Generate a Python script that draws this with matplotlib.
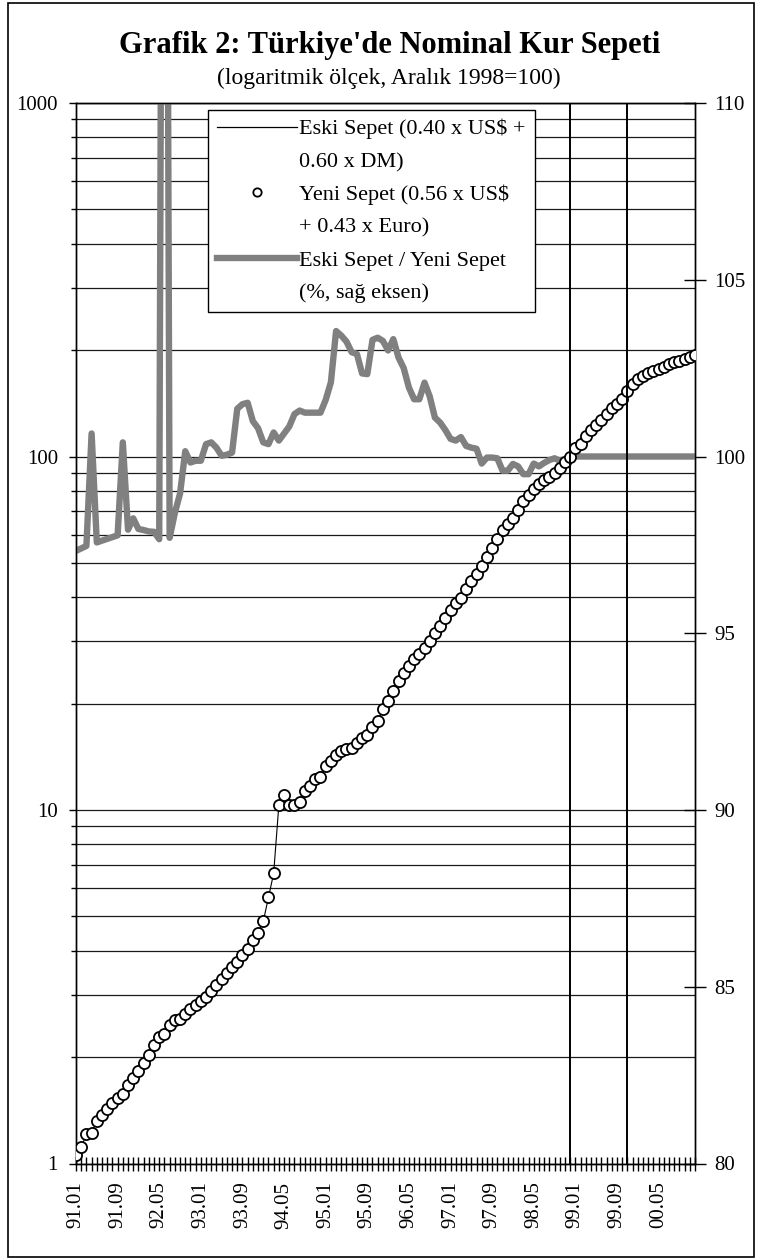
import matplotlib
matplotlib.use("Agg")
import matplotlib.pyplot as plt
from matplotlib.lines import Line2D
from matplotlib.patches import Rectangle
from matplotlib.ticker import NullFormatter

plt.rcParams['font.family'] = ['Liberation Serif', 'DejaVu Serif']

# aylik kategoriler 91.01 - 00.12
aylar = [f"{yil % 100:02d}.{ay:02d}" for yil in range(1991, 2001) for ay in range(1, 13)]

# Yeni Sepet (Aralik 1998 = 100), sol eksen (log)
yeni_sepet = [
    1.06, 1.11, 1.21, 1.22, 1.32, 1.37, 1.43, 1.48, 1.53, 1.57,
    1.67, 1.74, 1.83, 1.93, 2.03, 2.16, 2.28, 2.32, 2.47, 2.54,
    2.57, 2.64, 2.74, 2.80, 2.88, 2.95, 3.07, 3.19, 3.33, 3.46,
    3.59, 3.72, 3.89, 4.05, 4.30, 4.48, 4.84, 5.66, 6.62, 10.35,
    11.0, 10.34, 10.34, 10.56, 11.29, 11.71, 12.21, 12.42, 13.35, 13.72,
    14.33, 14.71, 14.88, 14.95, 15.43, 15.98, 16.33, 17.12, 17.80, 19.30,
    20.37, 21.65, 23.1, 24.33, 25.6, 26.7, 27.7, 28.8, 30.1, 31.6,
    33.2, 35.0, 36.8, 38.4, 39.9, 42.2, 44.5, 46.5, 49.1, 52.0,
    55.2, 58.5, 62.0, 64.5, 66.8, 70.6, 74.9, 77.9, 80.7, 83.7,
    85.9, 87.6, 89.9, 92.9, 96.5, 100.0, 105.4, 108.8, 114.4, 118.9,
    122.9, 126.9, 131.9, 137.2, 140.8, 145.5, 153.3, 160.5, 165.8, 169.0,
    172.4, 174.6, 176.9, 179.2, 182.2, 185.2, 186.4, 188.8, 191.2, 193.8,
]

# Eski Sepet cizgisi, dairelerle ust uste
eski_sepet = yeni_sepet

# Eski Sepet / Yeni Sepet (%), sag eksen
eski_yeni_orani = [
    97.33, 97.40, 97.47, 100.65, 97.57, 97.62, 97.67, 97.72, 97.77, 100.40,
    97.93, 98.25, 97.95, 97.92, 97.88, 97.87, 97.66, 140.0, 97.70, 98.40,
    98.95, 100.15, 99.83, 99.88, 99.88, 100.35, 100.40, 100.25, 100.02, 100.05,
    100.11, 101.35, 101.48, 101.52, 101.00, 100.80, 100.40, 100.35, 100.68, 100.45,
    100.65, 100.85, 101.20, 101.30, 101.24, 101.24, 101.24, 101.24, 101.60, 102.10,
    103.55, 103.42, 103.25, 102.95, 102.90, 102.35, 102.33, 103.30, 103.36, 103.27,
    103.00, 103.32, 102.80, 102.50, 101.95, 101.62, 101.62, 102.09, 101.70, 101.10,
    100.96, 100.75, 100.50, 100.45, 100.55, 100.30, 100.25, 100.22, 99.80, 99.97,
    99.97, 99.95, 99.60, 99.60, 99.79, 99.72, 99.50, 99.50, 99.80, 99.72,
    99.82, 99.90, 99.95, 99.88, 99.93, 100.0, 100.0, 100.0, 100.0, 100.0,
    100.0, 100.0, 100.0, 100.0, 100.0, 100.0, 100.0, 100.0, 100.0, 100.0,
    100.0, 100.0, 100.0, 100.0, 100.0, 100.0, 100.0, 100.0, 100.0, 100.0,
]

dikey_aylar = ["98.12", "99.11"]
sol_etiketler = [1, 10, 100, 1000]
sag_etiketler = [80, 85, 90, 95, 100, 105, 110]

x = list(range(len(aylar)))
gri = '#808080'

fig = plt.figure(figsize=(7.57, 12.59), dpi=100)
ax = fig.add_axes([76 / 757, 1 - 1163.5 / 1259, 619 / 757, 1060.5 / 1259])

# sol eksen: log olcek, izgara
ax.set_yscale('log')
ax.set_ylim(1, 1000)
ax.set_xlim(0, len(aylar) - 1)
ax.set_yticks(sol_etiketler)
ax.set_yticklabels([str(v) for v in sol_etiketler])
ax.yaxis.set_minor_formatter(NullFormatter())
ax.grid(True, which='both', axis='y', color='#1a1a1a', linewidth=0.9)
ax.set_xticks(x[::8])
ax.set_xticklabels(aylar[::8])
ax.set_xticks(x, minor=True)
ax.tick_params(axis='x', which='both', direction='inout', length=10, width=1)
ax.tick_params(axis='x', which='major', pad=8, labelsize=15, labelrotation=90)
ax.tick_params(axis='y', which='major', direction='out', length=5, width=1, pad=8, labelsize=15)
ax.tick_params(axis='y', which='minor', direction='out', length=3.5, width=1)
for s in ax.spines.values():
    s.set_color('black')
    s.set_linewidth(1)

# sag eksen: oran
ax_r = ax.twinx()
ax_r.set_zorder(2)
ax_r.set_ylim(80, 110)
ax_r.set_yticks(sag_etiketler)
ax_r.tick_params(axis='y', direction='inout', length=16, width=1, pad=6, labelsize=15)
oran_cizgi, = ax_r.plot(x, eski_yeni_orani, color=gri, linewidth=4.6,
                        label='Eski Sepet / Yeni Sepet')
for s in ax_r.spines.values():
    s.set_color('black')
    s.set_linewidth(1)

# ust katman: sepet serileri
ax_c = ax.twinx()
ax_c.set_zorder(3)
ax_c.set_yscale('log')
ax_c.set_ylim(1, 1000)
ax_c.axis('off')
eski_cizgi, = ax_c.plot(x, eski_sepet, color='black', linewidth=0.8)
yeni_nokta, = ax_c.plot(x, yeni_sepet, linestyle='none', marker='o', markersize=8,
                        markerfacecolor='white', markeredgecolor='black', markeredgewidth=1.3)
for ay in dikey_aylar:
    ax_c.axvline(aylar.index(ay), color='black', linewidth=1.4)

# lejant: iki satirlik etiketler
bos = Line2D([], [], color='none')
leg_eski = Line2D([], [], color='black', linewidth=0.9)
leg_yeni = Line2D([], [], linestyle='none', marker='o', markersize=6,
                  markerfacecolor='white', markeredgecolor='black', markeredgewidth=1.3)
leg_oran = Line2D([], [], color=gri, linewidth=4.6)
handles = [leg_eski, bos, leg_yeni, bos, leg_oran, bos]
labels = ['Eski Sepet (0.40 x US$ +', '0.60 x DM)',
          'Yeni Sepet (0.56 x US$', '+ 0.43 x Euro)',
          'Eski Sepet / Yeni Sepet', '(%, sağ eksen)']
leg = fig.legend(handles, labels, loc='upper left', bbox_to_anchor=(208 / 757, 1 - 110 / 1259),
                 bbox_transform=fig.transFigure, borderaxespad=0, fontsize=16,
                 handlelength=3.6, handletextpad=0.1, labelspacing=0.55, borderpad=0.4,
                 fancybox=False, framealpha=1, edgecolor='black')
leg.get_frame().set_linewidth(1)

fig.text(0.515, 1 - 45 / 1259, "Grafik 2: Türkiye'de Nominal Kur Sepeti",
         ha='center', va='center', fontsize=22, fontweight='bold')
fig.text(0.514, 1 - 78 / 1259, "(logaritmik ölçek, Aralık 1998=100)",
         ha='center', va='center', fontsize=17)

fig.add_artist(Rectangle((8 / 757, 2 / 1259), 746 / 757, 1254 / 1259, transform=fig.transFigure,
                         fill=False, edgecolor='black', linewidth=1.2))

fig.savefig('out.png', dpi=100)
